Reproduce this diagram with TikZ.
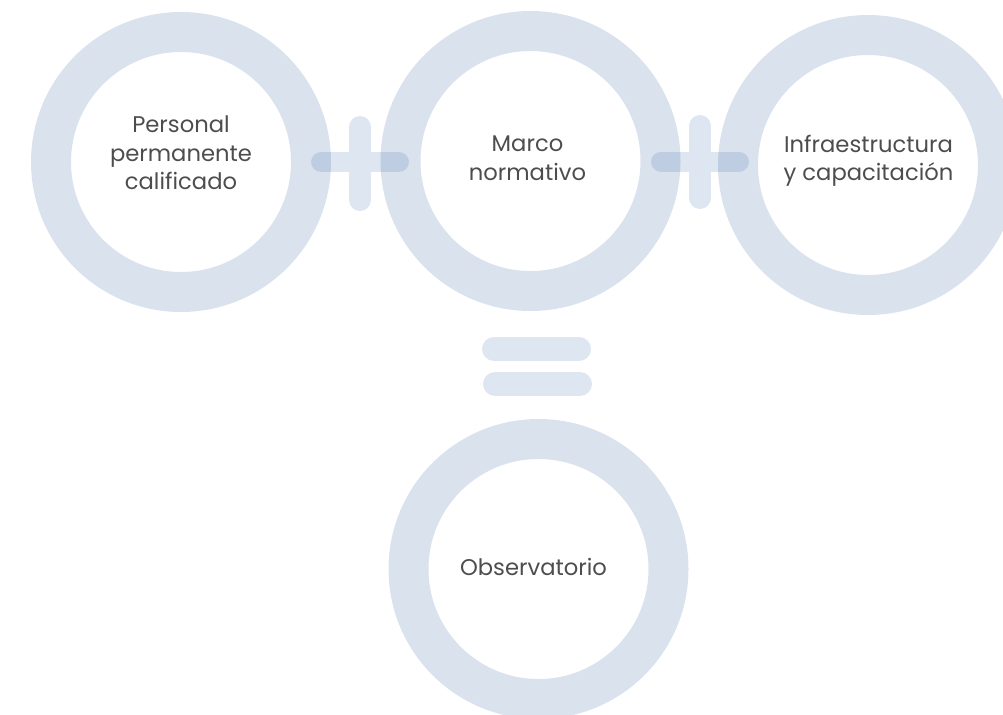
\documentclass[tikz,border=0pt]{standalone}
\usepackage{fontspec}
\setmainfont{Poppins}
\definecolor{ringcol}{HTML}{DAE2EE}
\definecolor{barcol}{HTML}{DEE6F1}
\definecolor{overcol}{HTML}{BECDE1}
\definecolor{txtcol}{HTML}{4D4D4D}
\begin{document}
\begin{tikzpicture}[x=0.75pt,y=-0.75pt,
  ring/.style={circle, draw=ringcol, line width=30pt, minimum size=195pt, inner sep=0pt},
  label/.style={text=txtcol, align=center, font=\fontsize{17}{21.4}\selectfont},
  hbar/.style={line width=15pt, line cap=round},
  vbar/.style={line width=16.5pt, line cap=round, draw=barcol},
  eqbar/.style={line width=18pt, line cap=round, draw=barcol}]
\useasboundingbox (0,0) rectangle (1003,714);
% rings
\node[ring] (r1) at (181,162) {};
\node[ring] (r2) at (530.5,161) {};
\node[ring] (r3) at (868,165) {};
\node[ring] (r4) at (538.5,569) {};
% plus signs
\coordinate (p1l) at (321,162); \coordinate (p1r) at (399,162);
\coordinate (p1t) at (360,127); \coordinate (p1b) at (360,200);
\coordinate (p2l) at (661,161.5); \coordinate (p2r) at (739,161.5);
\coordinate (p2t) at (700,126); \coordinate (p2b) at (700,198);
\draw[vbar] (p1t) -- (p1b);
\draw[vbar] (p2t) -- (p2b);
\draw[hbar, draw=barcol] (p1l) -- (p1r);
\draw[hbar, draw=barcol] (p2l) -- (p2r);
% darker overlap where bars cross rings
\begin{scope}[even odd rule]
  \clip (r1.center) circle[radius=112.5pt] (r1.center) circle[radius=82.5pt]
        (r2.center) circle[radius=112.5pt] (r2.center) circle[radius=82.5pt]
        (r3.center) circle[radius=112.5pt] (r3.center) circle[radius=82.5pt];
  \draw[hbar, draw=overcol] (p1l) -- (p1r);
  \draw[hbar, draw=overcol] (p2l) -- (p2r);
\end{scope}
% equals sign
\coordinate (e1l) at (494,349); \coordinate (e1r) at (579,349);
\coordinate (e2l) at (495,384); \coordinate (e2r) at (580,384);
\draw[eqbar] (e1l) -- (e1r);
\draw[eqbar] (e2l) -- (e2r);
% labels
\node[label] (t1) at (181,153) {Personal\\permanente\\calificado};
\node[label] (t2) at (527.5,158) {Marco\\normativo};
\node[label] (t3) at (868.5,161) {Infraestructura\\y capacitación};
\node[label, anchor=base] (t4) at (533.5,575) {Observatorio};
\end{tikzpicture}
\end{document}
